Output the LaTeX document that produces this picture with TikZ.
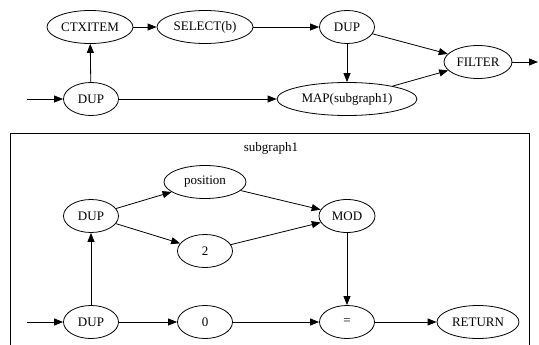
\documentclass[tikz,border=0pt]{standalone}
\usepackage{fontspec}
\setmainfont{Liberation Serif}
\usetikzlibrary{arrows.meta,shapes.geometric}
\tikzset{
  op/.style={draw, ellipse, inner sep=0pt, minimum height=33pt, minimum width=55pt, line width=0.8pt, font=\fontsize{13}{15}\selectfont},
  arr/.style={-{Triangle[length=9pt,width=7pt]}, line width=0.8pt},
}

\begin{document}
\begin{tikzpicture}[x=1pt,y=-1pt]
  \useasboundingbox (0,0) rectangle (539,345);
  % outer program
  \node[op, minimum width=86pt] (ctx) at (90,27) {CTXITEM};
  \node[op, minimum width=96pt] (sel) at (205,27) {SELECT(b)};
  \node[op] (dupb) at (347,27) {DUP};
  \node[op, minimum width=68pt] (filter) at (478,62) {FILTER};
  \node[op, minimum width=140pt] (map) at (347,99) {MAP(subgraph1)};
  \node[op] (dupa) at (91,99) {DUP};
  \coordinate (src) at (27,99);
  \coordinate (sink) at (538,62);
  \draw[arr] (src) -- (dupa);
  \draw[arr] (dupa) -- (ctx);
  \draw[arr] (ctx) -- (sel);
  \draw[arr] (sel) -- (dupb);
  \draw[arr] (dupb) -- (map);
  \draw[arr] (dupb) -- (filter);
  \draw[arr] (map) -- (filter);
  \draw[arr] (dupa) -- (map);
  \draw[arr] (filter) -- (sink);
  % cluster for the mapped body
  \draw[line width=0.8pt] (10.5,345) |- (529,133) -- (529,345);
  \node[font=\fontsize{13}{15}\selectfont] (sublbl) at (271,148) {subgraph1};
  \node[op, minimum width=82pt] (pos) at (205,182) {position};
  \node[op] (dupd) at (91,216) {DUP};
  \node[op] (two) at (205,251) {2};
  \node[op, minimum width=56pt] (mod) at (347,216) {MOD};
  \node[op] (dupc) at (91,322) {DUP};
  \node[op] (zero) at (205,322) {0};
  \node[op] (eq) at (347,322) {=};
  \node[op, minimum width=82pt] (ret) at (478,322) {RETURN};
  \coordinate (subsrc) at (27,322);
  \draw[arr] (subsrc) -- (dupc);
  \draw[arr] (dupc) -- (dupd);
  \draw[arr] (dupd) -- (pos);
  \draw[arr] (dupd) -- (two);
  \draw[arr] (pos) -- (mod);
  \draw[arr] (two) -- (mod);
  \draw[arr] (mod) -- (eq);
  \draw[arr] (dupc) -- (zero);
  \draw[arr] (zero) -- (eq);
  \draw[arr] (eq) -- (ret);
\end{tikzpicture}
\end{document}
